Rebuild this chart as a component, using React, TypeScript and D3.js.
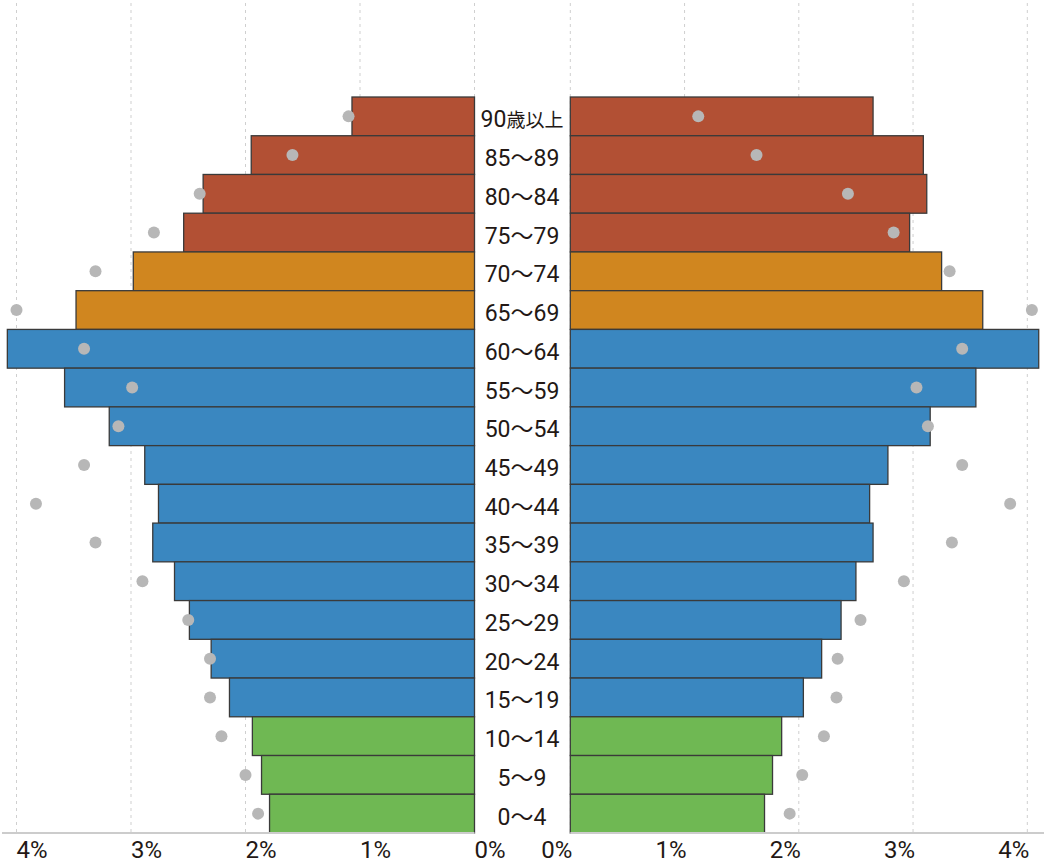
import React from "react";
import * as d3 from "d3";

const ageGroups = [
  "90歳以上", "85～89", "80～84", "75～79", "70～74", "65～69", "60～64",
  "55～59", "50～54", "45～49", "40～44", "35～39", "30～34", "25～29",
  "20～24", "15～19", "10～14", "5～9", "0～4",
];
const groupKind = [
  "old", "old", "old", "old", "senior", "senior", "work", "work", "work", "work",
  "work", "work", "work", "work", "work", "work", "young", "young", "young",
];
const leftBars = [1.07, 1.95, 2.37, 2.54, 2.98, 3.48, 4.08, 3.58, 3.19, 2.88, 2.76, 2.81, 2.62, 2.49, 2.30, 2.14, 1.94, 1.86, 1.79];
const leftDots = [1.10, 1.59, 2.40, 2.80, 3.31, 4.00, 3.41, 2.99, 3.11, 3.41, 3.83, 3.31, 2.90, 2.50, 2.31, 2.31, 2.21, 2.00, 1.89];
const rightBars = [2.65, 3.09, 3.12, 2.97, 3.25, 3.61, 4.10, 3.55, 3.15, 2.78, 2.62, 2.65, 2.50, 2.37, 2.20, 2.04, 1.85, 1.77, 1.70];
const rightDots = [1.12, 1.63, 2.43, 2.83, 3.32, 4.04, 3.43, 3.03, 3.13, 3.43, 3.85, 3.34, 2.92, 2.54, 2.34, 2.33, 2.22, 2.03, 1.92];
const ticks = [0, 1, 2, 3, 4];

const colors: Record<string, string> = {
  old: "#b25034",
  senior: "#d0861f",
  work: "#3a87c0",
  young: "#6fb853",
};

function splitLabel(a: string) {
  // separate leading digits from CJK suffix so CJK can be set smaller
  const m = a.match(/^(\d+)(歳以上)$/);
  return m ? [m[1], m[2]] : [a, ""];
}

export default function App() {
  const W = 1044, H = 864;
  const xL = d3.scaleLinear().domain([0, 4]).range([474.5, 16.5]);
  const xR = d3.scaleLinear().domain([0, 4]).range([570.3, 1027.3]);
  const y = d3.scaleBand<string>().domain(ageGroups).range([97, 833]).padding(0);
  const bw = y.bandwidth();
  const textColor = "#231815";
  const font = "Roboto, 'Noto Sans CJK JP', sans-serif";

  return (
    <svg width={W} height={H} style={{ position: "absolute", left: 0, top: 0, background: "#fff" }}>
      {ticks.map((t) => (
        <line key={"gl" + t} x1={xL(t)} x2={xL(t)} y1={3} y2={833} stroke="#cfcfcf" strokeWidth={1} strokeDasharray="3,4" />
      ))}
      {ticks.map((t) => (
        <line key={"gr" + t} x1={xR(t)} x2={xR(t)} y1={3} y2={833} stroke="#cfcfcf" strokeWidth={1} strokeDasharray="3,4" />
      ))}
      {ageGroups.map((a, i) => (
        <rect key={"bl" + a} x={xL(leftBars[i])} y={y(a)} width={xL(0) - xL(leftBars[i])} height={bw}
          fill={colors[groupKind[i]]} stroke="#3a3a3a" strokeWidth={1.3} />
      ))}
      {ageGroups.map((a, i) => (
        <rect key={"br" + a} x={xR(0)} y={y(a)} width={xR(rightBars[i]) - xR(0)} height={bw}
          fill={colors[groupKind[i]]} stroke="#3a3a3a" strokeWidth={1.3} />
      ))}
      {ageGroups.map((a, i) => (
        <circle key={"dl" + a} cx={xL(leftDots[i])} cy={(y(a) as number) + bw / 2} r={6} fill="#b7b7b7" />
      ))}
      {ageGroups.map((a, i) => (
        <circle key={"dr" + a} cx={xR(rightDots[i])} cy={(y(a) as number) + bw / 2} r={6} fill="#b7b7b7" />
      ))}
      {ageGroups.map((a) => {
        const [num, cjk] = splitLabel(a);
        return (
          <text key={"lab" + a} x={522} y={(y(a) as number) + bw / 2 + 11} textAnchor="middle"
            fontFamily={font} fontSize={23} fill={textColor}>
            {num}
            {cjk && <tspan fontSize={19}>{cjk}</tspan>}
          </text>
        );
      })}
      <line x1={2} x2={xL(0)} y1={833} y2={833} stroke="#cccccc" strokeWidth={2} />
      <line x1={xR(0)} x2={1044} y1={833} y2={833} stroke="#cccccc" strokeWidth={2} />
      {ticks.map((t) => (
        <text key={"tl" + t} x={xL(t)} y={858} textAnchor="start" fontFamily={font} fontSize={24} fill={textColor}>{t + "%"}</text>
      ))}
      {ticks.map((t) => (
        <text key={"tr" + t} x={xR(t) + 2} y={858} textAnchor="end" fontFamily={font} fontSize={24} fill={textColor}>{t + "%"}</text>
      ))}
    </svg>
  );
}
